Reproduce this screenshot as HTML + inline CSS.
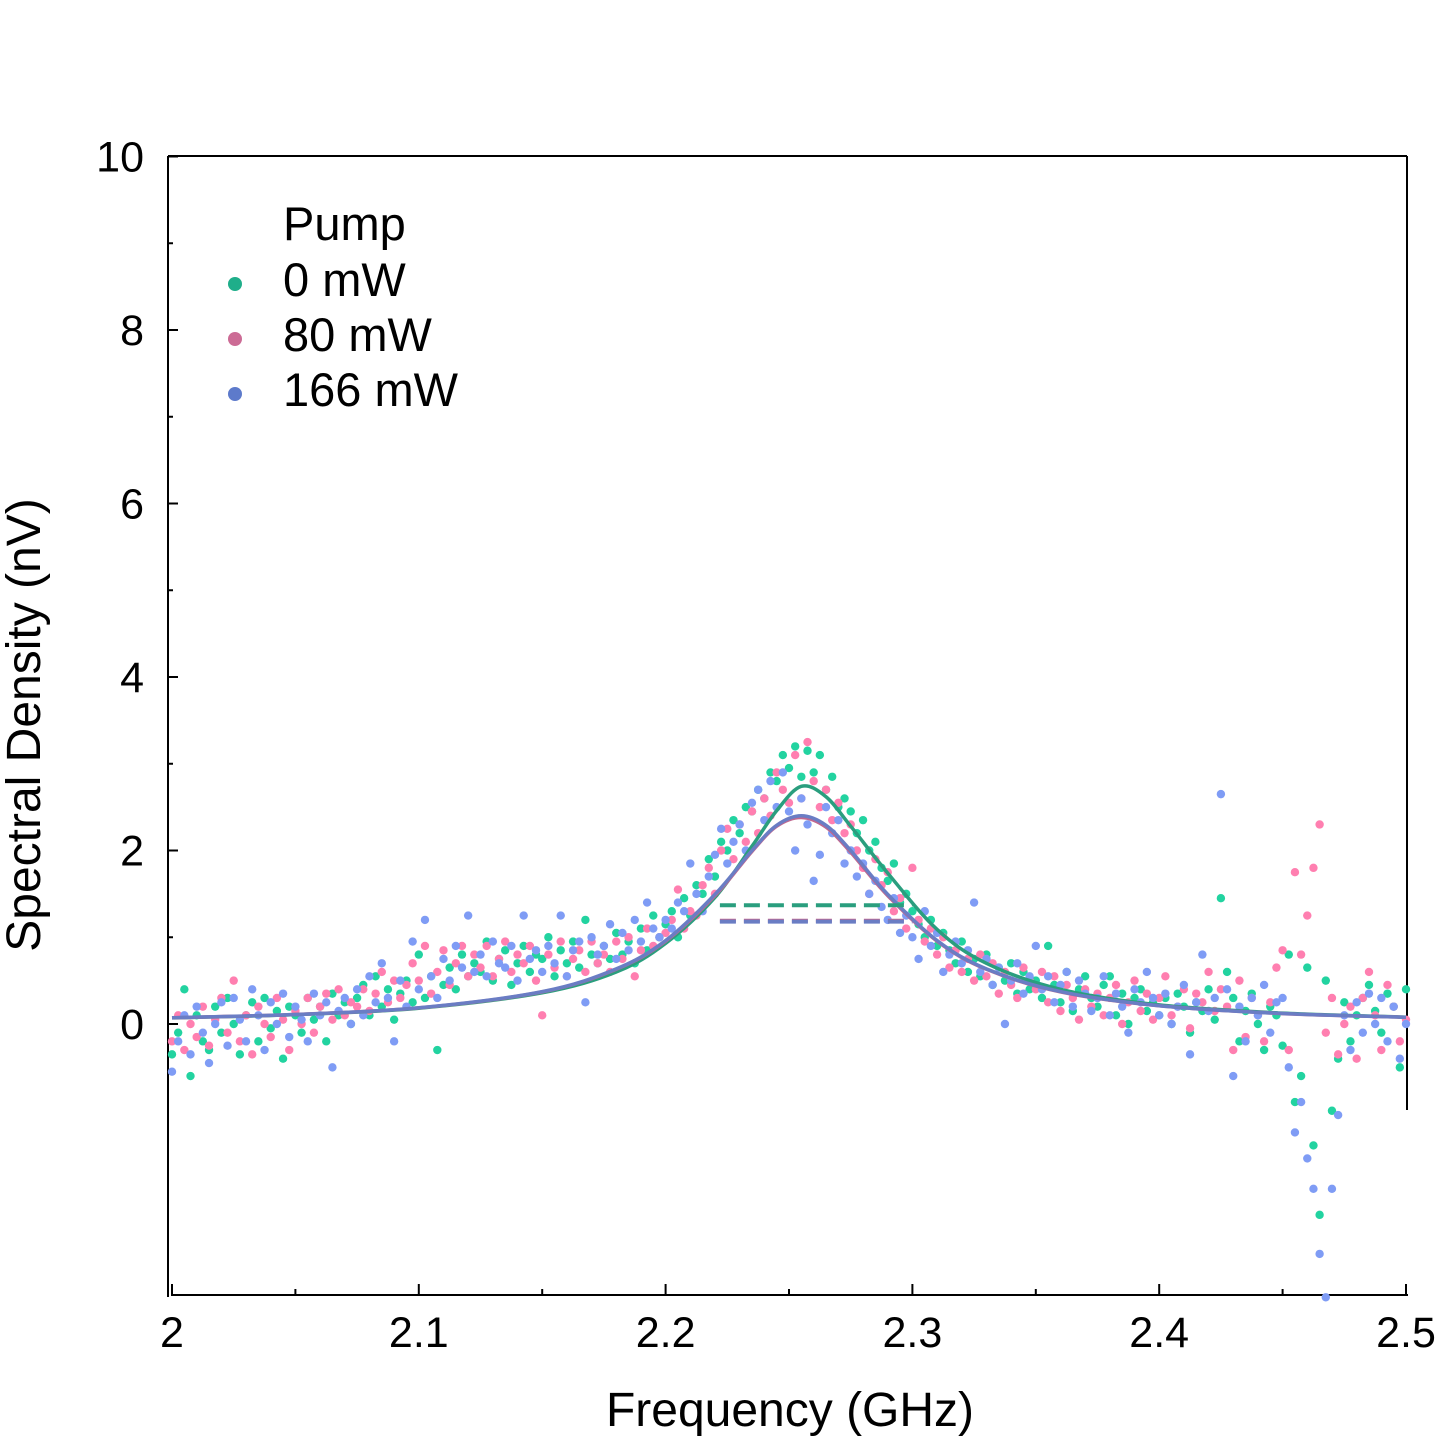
<!DOCTYPE html>
<html><head><meta charset="utf-8"><style>
html,body{margin:0;padding:0;background:#fff}
svg{display:block}
text{font-family:"Liberation Sans",sans-serif;fill:#000}
</style></head><body>
<svg id="chart" width="1440" height="1440" viewBox="0 0 1440 1440" xmlns="http://www.w3.org/2000/svg">
<g id="axes"></g>
<g id="points"></g>
<g id="fits"></g>
<g id="legend">
<text x="283" y="240" font-size="47">Pump</text>
<circle cx="235" cy="284" r="7" fill="#1fae8a"/>
<text x="283" y="296" font-size="47">0 mW</text>
<circle cx="235" cy="339" r="7" fill="#cc6b95"/>
<text x="283" y="351" font-size="47">80 mW</text>
<circle cx="235" cy="394" r="7" fill="#5d7acb"/>
<text x="283" y="406" font-size="47">166 mW</text>
</g>
<text x="790" y="1426" font-size="48" text-anchor="middle">Frequency (GHz)</text>
<text transform="translate(40,725) rotate(-90)" font-size="48" text-anchor="middle">Spectral Density (nV)</text>
</svg>
<script>
const xTicks=[2,2.1,2.2,2.3,2.4,2.5];
const xTickLabels=["2","2.1","2.2","2.3","2.4","2.5"];
const yTicks=[0,2,4,6,8,10];
const yTickLabels=["0","2","4","6","8","10"];
const freqStart=2.0, freqStep=0.0025;
const green0=[-0.35,-0.1,0.4,-0.6,0.1,-0.2,-0.3,0.2,-0.1,0.3,
0.0,-0.35,0.1,0.25,-0.2,0.3,-0.05,0.15,-0.4,0.2,
0.1,-0.1,0.3,0.05,0.2,-0.2,0.35,0.1,0.25,0.0,
0.3,0.45,0.1,0.55,0.2,0.4,0.05,0.35,0.5,0.25,
0.8,0.3,0.55,-0.3,0.45,0.65,0.4,0.8,0.55,0.7,
0.6,0.95,0.5,0.75,0.85,0.45,0.7,0.9,0.6,0.8,
0.75,1.0,0.55,0.85,0.7,0.95,0.65,1.2,0.8,0.7,
0.9,0.75,1.05,0.8,0.95,0.7,1.1,0.85,1.25,1.0,
1.15,1.3,1.0,1.45,1.25,1.6,1.5,1.9,1.7,2.1,
2.0,2.35,2.2,2.5,2.45,2.7,2.6,2.9,2.8,3.1,
2.95,3.2,2.85,3.15,2.9,3.1,2.7,2.85,2.5,2.6,
2.45,2.2,2.35,2.0,2.1,1.8,1.65,1.85,1.4,1.5,
1.3,1.15,1.0,1.2,0.9,1.05,0.85,0.7,0.95,0.6,
0.75,0.55,0.8,0.45,0.65,0.5,0.7,0.35,0.6,0.4,
0.5,0.3,0.9,0.45,0.25,0.6,0.15,0.4,0.55,0.3,
0.2,0.45,0.55,0.1,0.35,0.0,0.3,0.4,0.15,0.25,
0.1,0.3,0.0,0.35,0.2,-0.1,0.25,0.15,0.4,0.05,
1.45,0.6,0.3,-0.2,0.15,0.35,0.0,-0.3,0.2,0.1,
-0.25,0.8,-0.9,-0.6,0.65,-1.4,-2.2,0.5,-1.0,-0.4,
0.25,-0.2,0.1,0.3,0.45,0.15,-0.1,0.35,0.2,-0.5,
0.4];
const pink80=[-0.2,0.1,-0.3,0.0,-0.15,0.2,-0.25,0.05,0.3,-0.1,
0.5,-0.2,0.1,-0.35,0.2,0.0,-0.15,0.3,0.05,-0.3,
0.15,0.0,0.3,-0.1,0.2,0.35,0.05,0.4,0.1,0.25,
0.2,0.4,0.15,0.35,0.6,0.25,0.5,0.3,0.45,0.7,
0.5,0.9,0.35,0.6,0.85,0.45,0.7,0.9,0.55,0.8,
0.65,0.9,0.55,0.75,0.95,0.6,0.8,0.7,0.9,0.5,
0.1,0.8,0.65,0.95,0.55,0.75,0.85,0.6,0.95,0.7,
0.8,0.6,0.95,0.75,1.0,0.55,0.85,1.1,0.9,1.0,
1.05,1.2,1.55,1.1,1.3,1.25,1.6,1.8,1.5,2.0,
2.25,1.9,2.3,2.1,2.45,2.2,2.6,2.4,2.9,2.7,
2.55,3.1,2.6,3.25,2.8,2.5,2.7,2.35,2.55,2.2,
2.3,2.0,1.8,1.5,1.9,1.6,1.75,1.3,1.45,1.1,
1.8,1.2,0.95,1.1,0.8,1.0,0.65,0.85,0.6,0.75,
0.5,0.8,0.55,0.7,0.35,0.6,0.45,0.3,0.65,0.5,
0.4,0.6,0.25,0.55,0.15,0.45,0.3,0.05,0.4,0.2,
0.35,0.1,0.3,0.45,0.0,0.25,0.5,0.15,0.35,0.05,
0.3,0.55,0.1,0.2,0.4,-0.05,0.35,0.25,0.6,0.15,
0.4,0.2,-0.3,0.5,-0.15,0.3,0.1,-0.2,0.25,0.65,
0.85,-0.3,1.75,0.8,1.25,1.8,2.3,-0.1,0.3,-0.35,
0.0,0.2,-0.4,0.3,0.6,0.1,-0.3,0.45,0.2,-0.2,
0.05];
const blue166=[-0.55,-0.2,0.1,-0.35,0.2,-0.1,-0.45,0.0,0.25,-0.25,
0.3,0.05,-0.2,0.4,0.1,-0.3,0.25,0.0,0.35,-0.15,
0.2,0.05,-0.2,0.35,0.1,0.25,-0.5,0.15,0.3,0.0,
0.4,0.1,0.55,0.25,0.7,0.3,-0.2,0.5,0.2,0.95,
0.4,1.2,0.55,0.3,0.75,0.5,0.9,0.65,1.25,0.6,
0.8,0.55,0.95,0.7,0.65,0.9,0.5,1.25,0.75,0.85,
0.6,0.9,0.7,1.25,0.55,0.85,0.95,0.25,1.0,0.8,
0.9,1.15,0.75,1.05,0.85,1.2,0.95,1.4,1.1,1.0,
1.2,1.1,1.4,1.3,1.85,1.5,1.3,1.7,1.95,2.25,
1.85,2.1,2.3,2.0,2.55,2.7,2.35,2.8,2.5,2.9,
2.45,2.0,2.6,2.3,1.65,1.95,2.5,2.2,2.35,1.85,
2.0,1.7,1.85,1.5,1.65,1.35,1.2,1.45,1.05,1.25,
1.0,0.75,1.3,0.9,1.05,0.6,0.8,0.95,0.7,0.85,
1.4,0.6,0.75,0.45,0.65,0.0,0.5,0.7,0.35,0.55,
0.9,0.4,0.55,0.25,0.45,0.6,0.2,0.5,0.35,0.15,
0.3,0.55,0.1,0.35,0.2,-0.1,0.4,0.25,0.6,0.3,
0.1,0.35,0.0,0.2,0.45,-0.35,0.25,0.8,0.15,0.3,
2.65,0.4,-0.6,0.2,-0.2,0.3,0.1,0.45,-0.1,0.25,
0.3,-0.5,-1.25,-0.9,-1.55,-1.9,-2.65,-3.15,-1.9,-1.05,
0.1,-0.3,0.25,-0.1,0.35,0.0,0.3,-0.2,0.2,-0.4,
0.0];
const fitFreq=[2.0,2.05,2.1,2.15,2.18,2.2,2.22,2.235,2.245,2.255,2.265,2.275,2.29,2.31,2.33,2.36,2.4,2.45,2.5];
const fitGreen=[0.07,0.108,0.182,0.36,0.6,0.93,1.46,2.05,2.46,2.74,2.62,2.28,1.74,1.09,0.7,0.4,0.22,0.126,0.08];
const fitPink=[0.072,0.11,0.186,0.37,0.63,0.955,1.48,1.99,2.28,2.38,2.27,1.98,1.48,0.955,0.63,0.37,0.21,0.12,0.078];
const fitBlue=[0.0725,0.11,0.187,0.373,0.635,0.962,1.495,2.0,2.29,2.4,2.29,2.0,1.495,0.962,0.635,0.373,0.211,0.121,0.078];
const dashFreq=[2.222,2.3];
const dashGreen=[1.37,1.37];
const dashPink=[1.19,1.19];
const dashBlue=[1.18,1.18];

const NS="http://www.w3.org/2000/svg";
const X=f=>172+(f-2)*2468;
const Y=v=>1024-v*86.75;
function mk(tag,attrs,parent){const e=document.createElementNS(NS,tag);for(const k in attrs)e.setAttribute(k,attrs[k]);parent.appendChild(e);return e;}
const axes=document.getElementById('axes');
let e;
e=mk('line',{x1:168,y1:156,x2:168,y2:1297,stroke:'#000','stroke-width':2},axes);


e=mk('line',{x1:168,y1:156,x2:1407,y2:156,stroke:'#000','stroke-width':2},axes);


e=mk('line',{x1:1407,y1:156,x2:1407,y2:1110,stroke:'#000','stroke-width':2},axes);


e=mk('line',{x1:172,y1:1295,x2:1408,y2:1295,stroke:'#000','stroke-width':2},axes);


xTicks.forEach((t,i)=>{
 const x=X(t);
 e=mk('line',{x1:x,y1:1296,x2:x,y2:1284,stroke:'#000','stroke-width':2},axes);
 
 
 e=mk('text',{x:x,y:1347,'font-size':43,'text-anchor':'middle'},axes);
 e.textContent=xTickLabels[i];
 
 
 if(i<xTicks.length-1){
  const xm=X(t+0.05);
  e=mk('line',{x1:xm,y1:1295,x2:xm,y2:1289,stroke:'#000','stroke-width':2},axes);
  
  
 }
});
yTicks.forEach((t,i)=>{
 const y=Y(t);
 e=mk('line',{x1:168,y1:y,x2:178,y2:y,stroke:'#000','stroke-width':2},axes);
 
 
 e=mk('text',{x:144,y:y+15,'font-size':43,'text-anchor':'end'},axes);
 e.textContent=yTickLabels[i];
 
 
 if(i<yTicks.length-1){
  const ym=Y(t+1);
  e=mk('line',{x1:168,y1:ym,x2:173,y2:ym,stroke:'#000','stroke-width':2},axes);
  
  
 }
});
const pts=document.getElementById('points');
[[green0,'#22d3a0','0mw'],[pink80,'#ff7fb0','80mw'],[blue166,'#7f9cf5','166mw']].forEach(([arr,c,n])=>{
 arr.forEach((v,i)=>{
  const c1=mk('circle',{cx:X(freqStart+i*freqStep),cy:Y(v),r:4.2,fill:c},pts);
  
  
 });
});
const fits=document.getElementById('fits');
function path(xs,ys){return xs.map((f,i)=>(i?'L':'M')+X(f).toFixed(1)+' '+Y(ys[i]).toFixed(1)).join(' ');}
function smooth(xs,ys){
 const P=xs.map((f,i)=>[X(f),Y(ys[i])]);
 let d='M'+P[0][0].toFixed(1)+' '+P[0][1].toFixed(1);
 for(let i=0;i<P.length-1;i++){
  const p0=P[Math.max(i-1,0)],p1=P[i],p2=P[i+1],p3=P[Math.min(i+2,P.length-1)];
  const c1=[p1[0]+(p2[0]-p0[0])/6,p1[1]+(p2[1]-p0[1])/6];
  const c2=[p2[0]-(p3[0]-p1[0])/6,p2[1]-(p3[1]-p1[1])/6];
  d+=' C'+c1[0].toFixed(1)+' '+c1[1].toFixed(1)+' '+c2[0].toFixed(1)+' '+c2[1].toFixed(1)+' '+p2[0].toFixed(1)+' '+p2[1].toFixed(1);
 }
 return d;
}
[[fitGreen,'#2a9e7e','fit-line-0mw'],[fitPink,'#c0678f','fit-line-80mw'],[fitBlue,'#6a7dc4','fit-line-166mw']].forEach(([ys,c,n])=>{
 const p=mk('path',{d:smooth(fitFreq,ys),fill:'none',stroke:c,'stroke-width':3.5,'stroke-linejoin':'round'},fits);
 
 
});
[[dashGreen,'#2a9e7e','baseline-dash-0mw'],[dashPink,'#c0678f','baseline-dash-80mw'],[dashBlue,'#6a7dc4','baseline-dash-166mw']].forEach(([ys,c,n])=>{
 const p=mk('path',{d:path(dashFreq,ys),fill:'none',stroke:c,'stroke-width':4,'stroke-dasharray':'16 8'},fits);
 
 
});
</script>
</body></html>
